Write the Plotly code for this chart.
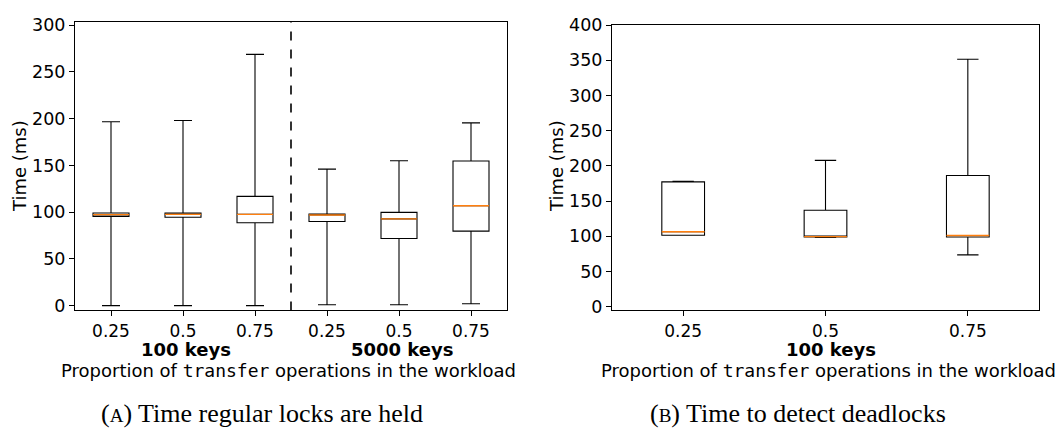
import plotly.graph_objects as go

# Panel (A): lock hold time, two key-space sizes
prop_labels = ["0.25", "0.5", "0.75"]
groups_a = ["100 keys", "5000 keys"]
a_low = [0, 0, 0, 1, 1, 2]
a_q1 = [95.5, 94.5, 88.7, 90, 71.8, 79.7]
a_med = [97.3, 97.6, 97.6, 96.9, 92.8, 106.9]
a_q3 = [99, 99, 116.8, 98, 99.7, 154.6]
a_high = [196.6, 198, 268.7, 146, 155, 195.5]

# Panel (B): deadlock detection time, 100 keys
groups_b = ["100 keys"]
b_low = [101.4, 98.2, 73.5]
b_q1 = [101.4, 99, 99]
b_med = [106.4, 99.5, 101]
b_q3 = [177.2, 137, 186.3]
b_high = [178, 207.8, 351.6]

W, H = 1064, 434
ORANGE = "#ff7f0e"
SANS = "DejaVu Sans"
MONO = "DejaVu Sans Mono"
SERIF = "Liberation Serif"
FS = 18


def px_x(p):
    return p / W


def px_y(p):
    return 1 - p / H


fig = go.Figure()


def add_panel(xa, ya, low, q1, med, q3, high, width):
    pos = list(range(1, len(med) + 1))
    fig.add_trace(go.Box(
        x=pos, lowerfence=low, q1=q1, median=med, q3=q3, upperfence=high,
        width=width, whiskerwidth=0.5, boxpoints=False,
        line=dict(color="black", width=1.1), fillcolor="rgba(255,255,255,0)",
        xaxis=xa, yaxis=ya, showlegend=False, hoverinfo="skip",
    ))
    # orange median segments on top of the boxes
    mx, my = [], []
    for p, m in zip(pos, med):
        mx += [p - width / 2, p + width / 2, None]
        my += [m, m, None]
    fig.add_trace(go.Scatter(
        x=mx, y=my, mode="lines", line=dict(color=ORANGE, width=1.4),
        xaxis=xa, yaxis=ya, showlegend=False, hoverinfo="skip",
    ))
    return pos


pos_a = add_panel("x", "y", a_low, a_q1, a_med, a_q3, a_high, 0.5)
pos_b = add_panel("x2", "y2", b_low, b_q1, b_med, b_q3, b_high, 0.3)

axis_common = dict(
    showline=True, linecolor="black", linewidth=1, mirror=True,
    ticks="outside", ticklen=5, tickwidth=1, tickcolor="black",
    showgrid=False, zeroline=False,
)
xtick_font = dict(family=SANS, size=17, color="black")
ytick_font = dict(family=SANS, size=17.5, color="black")

fig.update_layout(
    width=W, height=H, margin=dict(l=0, r=0, t=0, b=0),
    paper_bgcolor="white", plot_bgcolor="white",
    xaxis=dict(domain=[px_x(75), px_x(507)], range=[0.5, len(pos_a) + 0.5],
               tickvals=pos_a, ticktext=prop_labels * len(groups_a),
               ticklabelstandoff=0, tickfont=xtick_font, anchor="y", **axis_common),
    yaxis=dict(domain=[px_y(312), px_y(12)], range=[-5.2, 303.8],
               tickvals=list(range(0, 301, 50)), tickfont=ytick_font,
               anchor="x", **axis_common),
    xaxis2=dict(domain=[px_x(612), px_x(1039)], range=[0.5, len(pos_b) + 0.5],
                tickvals=pos_b, ticktext=prop_labels, ticklabelstandoff=0,
                tickfont=xtick_font, anchor="y2", **axis_common),
    yaxis2=dict(domain=[px_y(312), px_y(15.7)], range=[-5.5, 400],
                tickvals=list(range(0, 401, 50)), tickfont=ytick_font,
                anchor="x2", **axis_common),
)

# dashed separator between the two key-space groups
sep = len(prop_labels) + 0.5
fig.add_shape(type="line", xref="x", yref="y domain", x0=sep, x1=sep, y0=0, y1=1,
              line=dict(color="black", width=1.6, dash="dash"))

ann = []
# y-axis titles
for xp in (19, 556):
    ann.append(dict(text="Time (ms)", xref="paper", yref="paper", x=px_x(xp), y=px_y(162),
                    textangle=-90, showarrow=False, xanchor="center", yanchor="middle",
                    font=dict(family=SANS, size=FS, color="black")))
# bold group labels under the ticks
n = len(prop_labels)
for i, g in enumerate(groups_a):
    ann.append(dict(text="<b>%s</b>" % g, xref="x", yref="paper", x=i * n + (n + 1) / 2,
                    y=px_y(352), xshift=3, showarrow=False, xanchor="center", yanchor="middle",
                    font=dict(family=SANS, size=FS, color="black")))
for i, g in enumerate(groups_b):
    ann.append(dict(text="<b>%s</b>" % g, xref="x2", yref="paper", x=i * n + (n + 1) / 2,
                    y=px_y(352), xshift=5, showarrow=False, xanchor="center", yanchor="middle",
                    font=dict(family=SANS, size=FS, color="black")))
# x-axis titles
xtitle = ("Proportion of <span style='font-family:%s'>transfer</span> "
          "operations in the workload" % MONO)
for xp in (288, 828):
    ann.append(dict(text=xtitle, xref="paper", yref="paper", x=px_x(xp), y=px_y(374.5),
                    showarrow=False, xanchor="center", yanchor="middle",
                    font=dict(family=SANS, size=FS, color="black")))
# sub-figure captions
caps = [("A", "Time regular locks are held", 262), ("B", "Time to detect deadlocks", 798)]
for letter, txt, xp in caps:
    ann.append(dict(text="(<span style='font-size:19px'>%s</span>) %s" % (letter, txt),
                    xref="paper", yref="paper", x=px_x(xp), y=px_y(419),
                    showarrow=False, xanchor="center", yanchor="middle",
                    font=dict(family=SERIF, size=26, color="black")))
fig.update_layout(annotations=ann)

fig.write_html("out.html")
